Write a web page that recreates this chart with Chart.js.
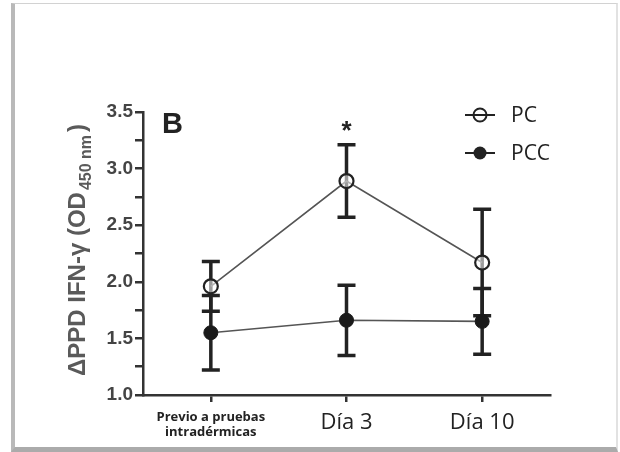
<!DOCTYPE html>
<html>
<head>
<meta charset="utf-8">
<script src="https://cdn.jsdelivr.net/npm/chart.js@4/dist/chart.umd.min.js"></script>
<style>
html,body{margin:0;padding:0;background:#fff;}
#wrap{position:relative;width:620px;height:452px;overflow:hidden;background:#fff;}
#frame{position:absolute;left:11px;top:3px;width:601px;height:443px;border-left:4px solid #b9b9b9;border-top:1px solid #d2d2d2;border-right:2px solid #e2e2e2;border-bottom:5px solid #ababab;}
canvas{position:absolute;left:0;top:0;}
</style>
</head>
<body>
<div id="wrap">
<div id="frame"></div>
<canvas id="c" width="620" height="452"></canvas>
</div>
<script>
// ---- data ----
const categories = [["Previo a pruebas", "intradérmicas"], "Día 3", "Día 10"];
const seriesNames = ["PC", "PCC"];
const pcMean  = [1.96, 2.89, 2.17];
const pcErr   = [0.22, 0.32, 0.47];
const pccMean = [1.55, 1.66, 1.65];
const pccErr  = [0.33, 0.31, 0.29];
const yMin = 1.0, yMax = 3.5, yMinorStep = 0.25, yLabelStep = 0.5;
const panelLabel = "B";
const sigMark = "*";
const sigIndex = 1;
const yTitleMain = "\u0394PPD IFN-\u03b3 (OD";
const yTitleSub = "450 nm";
const yTitleEnd = ")";

const errs = [pcErr, pccErr];
const means = [pcMean, pccMean];

const deco = {
  id: 'deco',
  beforeDatasetsDraw(chart) {
    const ctx = chart.ctx;
    const ys = chart.scales.y;
    ctx.save();
    ctx.strokeStyle = '#222';
    ctx.lineWidth = 3.5;
    ctx.lineCap = 'butt';
    for (let d = 1; d >= 0; d--) {
      const meta = chart.getDatasetMeta(d);
      meta.data.forEach((pt, j) => {
        const x = pt.x;
        const yt = ys.getPixelForValue(means[d][j] + errs[d][j]);
        const yb = ys.getPixelForValue(means[d][j] - errs[d][j]);
        ctx.beginPath();
        ctx.moveTo(x, yt); ctx.lineTo(x, yb);
        ctx.moveTo(x - 9, yt); ctx.lineTo(x + 9, yt);
        ctx.moveTo(x - 9, yb); ctx.lineTo(x + 9, yb);
        ctx.stroke();
      });
    }
    ctx.restore();
  },
  afterDraw(chart) {
    const ctx = chart.ctx;
    const ys = chart.scales.y, xs = chart.scales.x;
    ctx.save();
    // panel label
    ctx.fillStyle = '#222';
    ctx.font = 'bold 29px "Liberation Sans", Arial, sans-serif';
    ctx.textAlign = 'left';
    ctx.textBaseline = 'alphabetic';
    ctx.fillText(panelLabel, 162, 133);
    // significance mark
    ctx.font = 'bold 26px "Liberation Sans", Arial, sans-serif';
    ctx.textAlign = 'center';
    const sx = xs.getPixelForValue(sigIndex);
    const sy = ys.getPixelForValue(pcMean[sigIndex] + pcErr[sigIndex]) - 6;
    ctx.fillText(sigMark, sx, sy);
    // legend
    const rows = [{y: 115, open: true}, {y: 153, open: false}];
    rows.forEach((r, i) => {
      ctx.strokeStyle = '#222';
      ctx.lineWidth = 2;
      ctx.beginPath();
      ctx.moveTo(465, r.y); ctx.lineTo(495, r.y);
      ctx.stroke();
      ctx.beginPath();
      ctx.arc(480, r.y, 6.5, 0, Math.PI * 2);
      if (r.open) { ctx.lineWidth = 2; ctx.stroke(); }
      else { ctx.fillStyle = '#222'; ctx.fill(); }
      ctx.fillStyle = '#222';
      ctx.font = '21px "Open Sans", sans-serif';
      ctx.textAlign = 'left';
      ctx.textBaseline = 'middle';
      ctx.fillText(seriesNames[i], 511, r.y + 1);
    });
    // y axis title (rotated, with subscript)
    ctx.translate(85, 250);
    ctx.rotate(-Math.PI / 2);
    ctx.fillStyle = '#5a5a5a';
    ctx.textBaseline = 'alphabetic';
    ctx.textAlign = 'left';
    const fMain = 'bold 24px "Liberation Sans", Arial, sans-serif';
    const fSub = 'bold 16px "Liberation Sans", Arial, sans-serif';
    ctx.font = fMain; const w1 = ctx.measureText(yTitleMain).width;
    const w3 = ctx.measureText(yTitleEnd).width;
    ctx.font = fSub; const w2 = ctx.measureText(yTitleSub).width;
    const total = w1 + 2 + w2 + 3 + w3;
    let x0 = -total / 2;
    ctx.font = fMain; ctx.fillText(yTitleMain, x0, 0);
    ctx.font = fSub; ctx.fillText(yTitleSub, x0 + w1 + 2, 6);
    ctx.font = fMain; ctx.fillText(yTitleEnd, x0 + w1 + 2 + w2 + 3, 0);
    ctx.restore();
  }
};

new Chart(document.getElementById('c'), {
  type: 'line',
  data: {
    labels: categories,
    datasets: [
      {
        label: seriesNames[0],
        data: pcMean,
        borderColor: '#555',
        borderWidth: 1.6,
        pointRadius: 7,
        pointBorderWidth: 2.2,
        pointBorderColor: '#222',
        pointBackgroundColor: 'rgba(255,255,255,0.55)',
        tension: 0,
        order: 1
      },
      {
        label: seriesNames[1],
        data: pccMean,
        borderColor: '#555',
        borderWidth: 1.6,
        pointRadius: 7,
        pointBorderWidth: 1,
        pointBorderColor: '#1a1a1a',
        pointBackgroundColor: '#1a1a1a',
        tension: 0,
        order: 0
      }
    ]
  },
  options: {
    responsive: false,
    animation: false,
    events: [],
    layout: { padding: { top: 112, right: 70, left: 0, bottom: 0 } },
    plugins: { legend: { display: false }, tooltip: { enabled: false } },
    scales: {
      x: {
        type: 'category',
        offset: true,
        afterFit(s) { s.height = 57; },
        border: { display: true, color: '#333', width: 2.5 },
        grid: { drawOnChartArea: false, drawTicks: true, tickLength: 7, color: '#333', lineWidth: 2.5 },
        ticks: {
          color: '#222',
          padding: 8,
          maxRotation: 0,
          autoSkip: false,
          font: (c) => c.index === 0
            ? { family: '"Open Sans", sans-serif', size: 13, weight: 'bold', lineHeight: 1.15 }
            : { family: '"Open Sans", sans-serif', size: 22, weight: 'normal', lineHeight: 1.2 }
        }
      },
      y: {
        min: yMin,
        max: yMax,
        afterFit(s) { s.width = 143; },
        border: { display: true, color: '#333', width: 2.5 },
        grid: { drawOnChartArea: false, drawTicks: true, tickLength: 8, color: '#333', lineWidth: 2.5 },
        ticks: {
          stepSize: yMinorStep,
          padding: 2,
          color: '#444',
          font: { family: '"Liberation Sans", Arial, sans-serif', size: 19, weight: 'bold' },
          callback: (v) => (Math.abs(v / yLabelStep - Math.round(v / yLabelStep)) < 1e-6) ? v.toFixed(1) : ''
        }
      }
    }
  },
  plugins: [deco]
});
</script>
</body>
</html>
